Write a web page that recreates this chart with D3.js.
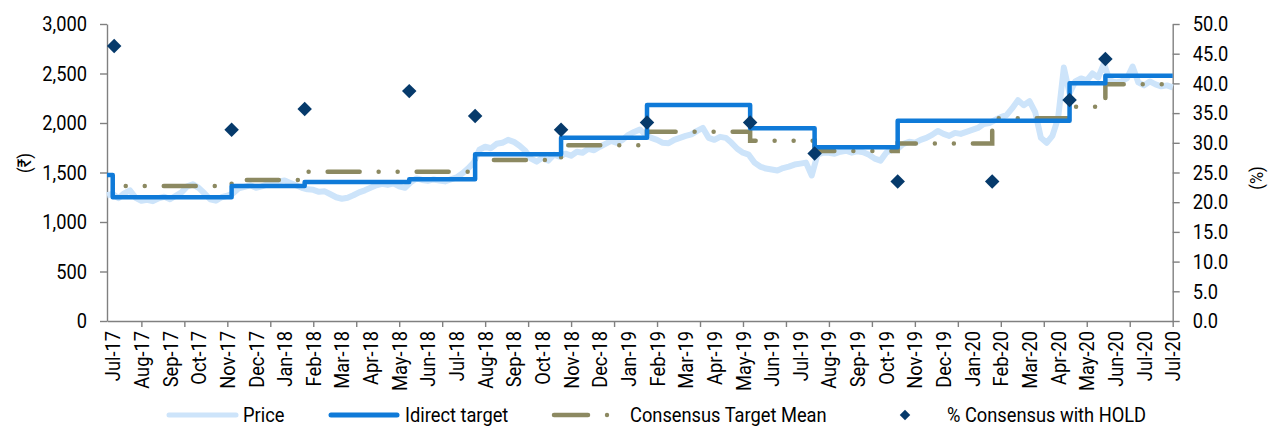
<!DOCTYPE html>
<html>
<head>
<meta charset="utf-8">
<script src="https://cdn.jsdelivr.net/npm/d3@7"></script>
<style>
  html, body { margin: 0; padding: 0; background: #fff; }
  svg { display: block; }
  text { font-family: Roboto, "Noto Sans", "DejaVu Sans", sans-serif; fill: #000; }
</style>
</head>
<body>
<svg id="chart" width="1269" height="428"></svg>
<script>
// ---------------- DATA ----------------
// trading-day index 0..744 on the category axis
const lastDay = 744;
const priceStep = 4; // one price reading every 4 trading days
const priceValues = [
  1270, 1285, 1240, 1290, 1320, 1245,
  1215, 1225, 1210, 1240, 1255, 1230,
  1265, 1300, 1360, 1380, 1345, 1290,
  1230, 1215, 1250, 1265, 1290, 1340,
  1355, 1370, 1345, 1360, 1380, 1395,
  1410, 1420, 1395, 1370, 1345, 1330,
  1325, 1305, 1310, 1280, 1250, 1235,
  1245, 1270, 1300, 1320, 1345, 1370,
  1385, 1375, 1390, 1360, 1345, 1400,
  1440, 1425, 1415, 1430, 1420, 1410,
  1430, 1450, 1490, 1540, 1600, 1730,
  1760, 1745, 1790, 1800, 1830, 1810,
  1770, 1720, 1640, 1610, 1650, 1620,
  1680, 1660, 1690, 1670, 1710, 1700,
  1740, 1725, 1760, 1790, 1820, 1800,
  1830, 1880, 1910, 1935, 1880, 1850,
  1830, 1800, 1795, 1830, 1850, 1870,
  1885, 1920, 1950, 1850, 1830, 1860,
  1850, 1800, 1740, 1700, 1680, 1600,
  1560, 1540, 1530, 1520, 1545, 1560,
  1580, 1590, 1600, 1470, 1680, 1700,
  1700, 1690, 1710, 1720, 1700, 1715,
  1705, 1680, 1640, 1620, 1700, 1730,
  1740, 1790, 1810, 1800, 1830, 1850,
  1880, 1920, 1890, 1870, 1900, 1890,
  1910, 1930, 1950, 1990, 2000, 2030,
  2060, 2080, 2150, 2230, 2180, 2220,
  2110, 1850, 1800, 1870, 2050, 2560,
  2300, 2420, 2450, 2430, 2500, 2460,
  2600, 2430, 2410, 2420, 2450, 2570,
  2410, 2380, 2420, 2390, 2370, 2380,
  2360
];

// Idirect target (step changes)
const targetDays   = [0,    4,    87,   138,  211,  257,  317,  377,  449,  494,  552,  618,  672,  697,  744];
const targetValues = [1475, 1249, 1364, 1405, 1431, 1684, 1852, 2182, 1946, 1754, 2023, 2023, 2401, 2478, 2478];

// Consensus target mean (step changes)
const consensusDays   = [4,    87,   138,  211,  257,  317,  377,  449,  494,  552,  618,  672,  697,  744];
const consensusValues = [1364, 1424, 1507, 1507, 1626, 1774, 1912, 1821, 1717, 1793, 2047, 2165, 2391, 2391];

// % Consensus with HOLD
const holdDays = [5,    87,   138,  211,  257,  317,  377,  449,  494,  552,  618,  672,  697];
const holdPct  = [46.3, 32.2, 35.7, 38.7, 34.5, 32.2, 33.4, 33.4, 28.2, 23.5, 23.5, 37.2, 44.1];

// x-axis labels (every 20 trading days from day 4)
const xLabels = ["Jul-17","Aug-17","Sep-17","Oct-17","Nov-17","Dec-17","Jan-18","Feb-18","Mar-18","Apr-18",
  "May-18","Jun-18","Jul-18","Aug-18","Sep-18","Oct-18","Nov-18","Dec-18","Jan-19","Feb-19","Mar-19","Apr-19",
  "May-19","Jun-19","Jul-19","Aug-19","Sep-19","Oct-19","Nov-19","Dec-19","Jan-20","Feb-20","Mar-20","Apr-20",
  "May-20","Jun-20","Jul-20","Jul-20"];
const xLabelFirstDay = 4, xLabelEvery = 20;
const xTickFirstDay = 24, xTickEvery = 30;

const leftTicks  = [0, 500, 1000, 1500, 2000, 2500, 3000];
const rightTicks = [0, 5, 10, 15, 20, 25, 30, 35, 40, 45, 50];

const legendNames = ["Price", "Idirect target", "Consensus Target Mean", "% Consensus with HOLD"];

// ---------------- CHART ----------------
const svg = d3.select("#chart");
const FONT = 21;
const SX = 0.87; // horizontal condensing of the text
const AXIS = "#808080";
const C_PRICE = "#cde4fa", C_TARGET = "#0f7ad8", C_CONS = "#8c8961", C_HOLD = "#063a6b";

const x  = d3.scaleLinear().domain([0, lastDay]).range([107, 1172.7]);
const yL = d3.scaleLinear().domain([0, 3000]).range([321, 24]);
const yR = d3.scaleLinear().domain([0, 50]).range([321, 24]);

function condenseTicks(g) {
  g.selectAll(".tick text").each(function () {
    const t = d3.select(this);
    const tx = +t.attr("x") || 0;
    t.attr("x", 0).attr("transform", `translate(${tx},0) scale(${SX},1)`)
      .style("font-size", FONT + "px").attr("fill", "#000");
  });
}

// bottom axis (ticks only)
const tickDays = d3.range(xTickFirstDay, lastDay + 1, xTickEvery);
const gx = svg.append("g").attr("transform", "translate(0,321)")
  .call(d3.axisBottom(x).tickValues(tickDays).tickSize(6).tickSizeOuter(0).tickFormat(""));
gx.select(".domain").attr("stroke", AXIS).attr("stroke-width", 1.4);
gx.selectAll(".tick line").attr("stroke", AXIS).attr("stroke-width", 1.4);

// x labels
const labelDays = xLabels.map((_, i) => xLabelFirstDay + i * xLabelEvery);
svg.append("g").selectAll("text").data(xLabels).join("text")
  .attr("transform", (d, i) => `translate(${x(labelDays[i])},331) rotate(-90) scale(${SX},1)`)
  .attr("text-anchor", "end").attr("dy", "0.36em")
  .style("font-size", FONT + "px").text(d => d);

// left axis
const gl = svg.append("g").attr("transform", "translate(107,0)")
  .call(d3.axisLeft(yL).tickValues(leftTicks).tickSize(7).tickSizeOuter(0).tickPadding(13).tickFormat(d3.format(",")));
gl.select(".domain").attr("stroke", AXIS).attr("stroke-width", 1.4);
gl.selectAll(".tick line").attr("stroke", AXIS).attr("stroke-width", 1.4);
gl.call(condenseTicks);

// right axis
const gr = svg.append("g").attr("transform", `translate(${x(lastDay)},0)`)
  .call(d3.axisRight(yR).tickValues(rightTicks).tickSize(7).tickSizeOuter(0).tickPadding(13).tickFormat(d3.format(".1f")));
gr.select(".domain").attr("stroke", AXIS).attr("stroke-width", 1.4);
gr.selectAll(".tick line").attr("stroke", AXIS).attr("stroke-width", 1.4);
gr.call(condenseTicks);

// axis titles
svg.append("text").attr("transform", `translate(24,163) rotate(-90) scale(${SX},1)`)
  .attr("text-anchor", "middle").attr("dy", "0.35em").style("font-size", "19px").text("(₹)");
svg.append("text").attr("transform", `translate(1256,178) rotate(-90) scale(${SX},1)`)
  .attr("text-anchor", "middle").attr("dy", "0.35em").style("font-size", "19px").text("(%)");

// price line
const pricePts = priceValues.map((v, i) => [i * priceStep, v]);
svg.append("path").datum(pricePts)
  .attr("fill", "none").attr("stroke", C_PRICE).attr("stroke-width", 6).attr("stroke-linejoin", "round")
  .attr("d", d3.line().x(d => x(d[0])).y(d => yL(d[1])));

// consensus line
const consPts = consensusDays.map((d, i) => [d, consensusValues[i]]);
svg.append("path").datum(consPts)
  .attr("fill", "none").attr("stroke", C_CONS).attr("stroke-width", 4.5)
  .attr("stroke-linecap", "round")
  .attr("stroke-dasharray", "32,19,0.01,19,0.01,19").attr("stroke-dashoffset", 38)
  .attr("d", d3.line().curve(d3.curveStepAfter).x(d => x(d[0])).y(d => yL(d[1])));

// target line
const tgtPts = targetDays.map((d, i) => [d, targetValues[i]]);
svg.append("path").datum(tgtPts)
  .attr("fill", "none").attr("stroke", C_TARGET).attr("stroke-width", 4.5).attr("stroke-linejoin", "round")
  .attr("d", d3.line().curve(d3.curveStepAfter).x(d => x(d[0])).y(d => yL(d[1])));

// hold diamonds
const diamond = d3.symbol().type(d3.symbolSquare).size(105);
svg.append("g").selectAll("path").data(holdDays).join("path")
  .attr("transform", (d, i) => `translate(${x(d)},${yR(holdPct[i])}) rotate(45)`)
  .attr("d", diamond).attr("fill", C_HOLD);

// legend
const ly = 415;
const lg = svg.append("g");
lg.append("line").attr("x1", 169).attr("x2", 236).attr("y1", ly).attr("y2", ly)
  .attr("stroke", C_PRICE).attr("stroke-width", 5).attr("stroke-linecap", "round");
lg.append("line").attr("x1", 331).attr("x2", 397).attr("y1", ly).attr("y2", ly)
  .attr("stroke", C_TARGET).attr("stroke-width", 5).attr("stroke-linecap", "round");
lg.append("line").attr("x1", 554).attr("x2", 588).attr("y1", ly).attr("y2", ly)
  .attr("stroke", C_CONS).attr("stroke-width", 4.5).attr("stroke-linecap", "round");
lg.append("circle").attr("cx", 607).attr("cy", ly).attr("r", 2.2).attr("fill", C_CONS);
lg.append("path").attr("transform", `translate(905,${ly}) rotate(45)`)
  .attr("d", d3.symbol().type(d3.symbolSquare).size(55)).attr("fill", C_HOLD);
const legendX = [243, 405, 630, 947];
lg.selectAll("text.leg").data(legendNames).join("text").attr("class", "leg")
  .attr("transform", (d, i) => `translate(${legendX[i]},${ly}) scale(${SX},1)`)
  .attr("dy", "0.35em")
  .style("font-size", FONT + "px").text(d => d);
</script>
</body>
</html>
